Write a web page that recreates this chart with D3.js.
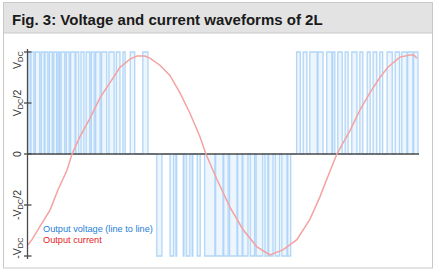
<!DOCTYPE html>
<html><head><meta charset="utf-8">
<script src="https://cdn.jsdelivr.net/npm/d3@7"></script>
<style>html,body{margin:0;padding:0;background:#fff;}svg{display:block;font-family:Arial,"Liberation Sans",sans-serif;}</style>
</head><body>
<svg id="c" width="437" height="272"></svg>
<script>
// ---- data (angle in electrical degrees, values normalised to V_DC) ----
const title = "Fig. 3: Voltage and current waveforms of 2L";
const legendLabels = ["Output voltage (line to line)", "Output current"];
const tickValues = [-1, -0.5, 0, 0.5, 1];
const tickLabels = [["-V","DC",""], ["-V","DC","/2"], ["0","",""], ["V","DC","/2"], ["V","DC",""]];
// PWM pulses: [start, end] in degrees
const pulsesPos1 = [[0,3],[4,8],[10,16],[18,22],[23,27],[29,33],[35,39],[41,43],[45,50],[52,56],[58,64],[65,69],[72,76],[79,84],[86,90],[92,98],[100,107],[110,117],[120,125],[129,132],[139,145],[156,163]];
const pulsesNeg = [[175,182],[193,198],[201,202],[211,212],[215,220],[223,224],[230,234],[240,254],[255,265],[266,272],[274,284],[285,291],[292,299],[302,308],[310,319],[322,326],[327,333],[336,342],[345,352],[353,357]];
const pulsesPos2 = [[365,370],[374,379],[383,393],[394,401],[406,413],[414,417],[421,427],[431,435],[440,447],[451,455],[461,465],[469,474],[478,482],[488,495],[499,505],[508,515],[516,523],[524,530]];
// output current samples
const currentAngle = [0,5.4,16.3,29.9,40.8,53.0,59.8,70.6,84.2,97.8,111.4,125.0,138.6,148.1,158.9,165.7,179.3,192.9,206.5,220.1,233.7,241.8,256.8,274.4,292.1,311.1,328.8,346.4,365.4,383.1,396.7,410.3,419.8,437.5,451.0,464.6,478.2,489.1,505.4,519.0,524.4,528.5];
const currentValue = [-0.89,-0.84,-0.71,-0.55,-0.35,-0.16,0.00,0.17,0.35,0.55,0.70,0.85,0.93,0.96,0.96,0.94,0.87,0.77,0.60,0.40,0.17,0.00,-0.25,-0.52,-0.74,-0.91,-0.99,-0.94,-0.84,-0.64,-0.42,-0.17,0.00,0.23,0.43,0.60,0.75,0.85,0.95,0.97,0.97,0.94];

const svg = d3.select("#c");
// frame
svg.append("rect").attr("x",3.5).attr("y",2.5).attr("width",429).attr("height",265.5)
  .attr("fill","#fff").attr("stroke","#c9c9c9");
svg.append("rect").attr("x",3.5).attr("y",2.5).attr("width",429).attr("height",30.5)
  .attr("fill","#e3e3e3").attr("stroke","#c9c9c9");
svg.append("text").attr("x",12).attr("y",25).attr("font-size",15).attr("font-weight","bold")
  .attr("fill","#1a1a1a").text(title);

const x = d3.scaleLinear().domain([0,530]).range([28,418]);
const y = d3.scaleLinear().domain([-1,1]).range([256,52]);

// voltage
function pulsePoints(pulses, level){
  const pts = [];
  pulses.forEach(([a,b]) => { pts.push([a,0],[a,level],[b,level],[b,0]); });
  return pts;
}
const vPts = [].concat(pulsePoints(pulsesPos1,1), pulsePoints(pulsesNeg,-1), pulsePoints(pulsesPos2,1));
const line = d3.line().x(d=>x(d[0])).y(d=>y(d[1]));
svg.append("path").attr("d", line(vPts)).attr("fill","#d6e9fb").attr("fill-opacity",0.45)
  .attr("stroke","#b2d6f7").attr("stroke-width",1.3);

// zero line
svg.append("line").attr("x1",x(0)).attr("x2",x(530)+1).attr("y1",y(0)).attr("y2",y(0))
  .attr("stroke","#4a4a4a").attr("stroke-width",1.6);

// current
const cur = currentAngle.map((a,i)=>[a,currentValue[i]]);
svg.append("path").attr("d", line(cur)).attr("fill","none").attr("stroke","#f4a2a2").attr("stroke-width",1.5);

// y axis
const ax = svg.append("g").attr("transform",`translate(${x(0)-0.5},0)`);
ax.append("line").attr("y1",y(1)-3).attr("y2",y(-1)+3).attr("stroke","#4a4a4a").attr("stroke-width",1.3);
const shift = {"1":8, "-1":-8};
tickValues.forEach((v,i)=>{
  ax.append("line").attr("x1",-3.5).attr("x2",4).attr("y1",y(v)).attr("y2",y(v)).attr("stroke","#4a4a4a").attr("stroke-width",1.3);
  const t = ax.append("text").attr("text-anchor","middle").attr("font-size",10.5).attr("fill","#333")
    .attr("transform",`translate(-7,${y(v)+(shift[v]||0)}) rotate(-90)`);
  const [a,sub,b] = tickLabels[i];
  t.append("tspan").text(a);
  if(sub){ t.append("tspan").attr("font-size",7.5).attr("dy",2).text(sub);
           if(b) t.append("tspan").attr("dy",-2).text(b); }
});

// legend
const colors = ["#1f80d6","#e42222"];
legendLabels.forEach((l,i)=>{
  svg.append("text").attr("x",43).attr("y",232+i*10.5).attr("font-size",9.2).attr("fill",colors[i]).text(l);
});
</script>
</body></html>
